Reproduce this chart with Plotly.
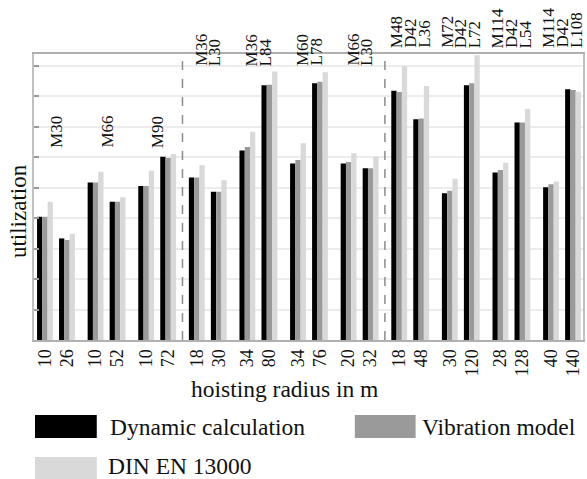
import plotly.graph_objects as go

# ---------------- data ----------------
radius_labels = ["10", "26", "10", "52", "10", "72", "18", "30", "34", "80", "34", "76",
                 "20", "32", "18", "48", "30", "120", "28", "128", "40", "140"]
dynamic = [4.04, 3.33, 5.16, 4.53, 5.05, 6.01, 5.33, 4.86, 6.21, 8.35, 5.79, 8.42,
           5.79, 5.63, 8.17, 7.24, 4.81, 8.35, 5.49, 7.13, 5.01, 8.22]
vibration = [4.04, 3.28, 5.16, 4.53, 5.05, 5.97, 5.33, 4.86, 6.33, 8.37, 5.90, 8.47,
             5.84, 5.63, 8.13, 7.26, 4.89, 8.42, 5.57, 7.13, 5.11, 8.20]
din = [4.53, 3.48, 5.52, 4.68, 5.55, 6.10, 5.73, 5.24, 6.83, 8.80, 6.45, 8.78,
       6.12, 6.01, 8.98, 8.33, 5.29, 9.34, 5.81, 7.57, 5.20, 8.14]
config_labels = [["M30"], ["M66"], ["M90"],
                 ["M36", "L30"], ["M36", "L84"], ["M60", "L78"], ["M66", "L30"],
                 ["M48", "D42", "L36"], ["M72", "D42", "L72"],
                 ["M114", "D42", "L54"], ["M114", "D42", "L108"]]
series_names = ["Dynamic calculation", "Vibration model", "DIN EN 13000"]

# ---------------- layout constants ----------------
W, H = 587, 479
L, R, T, B = 34, 585, 54, 340
PAIR_STEP = 2.3
colors = ["#000000", "#9a9a9a", "#d9d9d9"]
FONT = "Liberation Serif, Times New Roman, serif"
section_of_pair = [0, 0, 0, 1, 1, 1, 1, 2, 2, 2, 2]
section_label_bottom_px = [150, 68, 50]
section_breaks = [3, 7]  # pair index where a new section starts

n_pairs = len(config_labels)
xpos = [PAIR_STEP * k + j for k in range(n_pairs) for j in range(2)]


def px2paper_x(px):
    return (px - L) / (R - L)


def px2paper_y(py):
    return (B - py) / (B - T)


fig = go.Figure()
for name, vals, col in zip(series_names, [dynamic, vibration, din], colors):
    fig.add_trace(go.Bar(x=xpos, y=vals, name=name, marker=dict(color=col, line=dict(width=0)),
                         showlegend=False, hoverinfo="skip"))

# section separators
for s in section_breaks:
    xm = (xpos[2 * s - 1] + xpos[2 * s]) / 2
    fig.add_shape(type="line", xref="x", yref="paper", x0=xm, x1=xm, y0=0, y1=1,
                  line=dict(color="#8c8c8c", width=1.5, dash="dash"))

# configuration labels above groups
annotations = []
for k, lines in enumerate(config_labels):
    cx = (xpos[2 * k] + xpos[2 * k + 1]) / 2
    n = len(lines)
    for i, txt in enumerate(lines):
        annotations.append(dict(x=cx, y=px2paper_y(section_label_bottom_px[section_of_pair[k]]),
                                xref="x", yref="paper",
                                text=txt, showarrow=False, textangle=-90,
                                xanchor="center", yanchor="bottom",
                                xshift=(i - (n - 1) / 2) * 14,
                                font=dict(family=FONT, size=17, color="#111")))

# axis titles
annotations.append(dict(x=px2paper_x(18), y=px2paper_y(211), xref="paper", yref="paper",
                        text="utilization", showarrow=False, textangle=-90,
                        xanchor="center", yanchor="middle",
                        font=dict(family=FONT, size=23, color="#111")))
annotations.append(dict(x=px2paper_x(190), y=px2paper_y(389), xref="paper", yref="paper",
                        text="hoisting radius in m", showarrow=False,
                        xanchor="left", yanchor="middle",
                        font=dict(family=FONT, size=23.5, color="#111")))

# legend drawn manually (large swatches)
legend_items = [(35, 97, 415, 438, 108, 427), (356, 417, 415, 438, 421, 427),
                (35, 97, 457, 479, 106, 466)]
for (x0, x1, y0, y1, tx, ty), name, col in zip(legend_items, series_names, colors):
    fig.add_shape(type="rect", xref="paper", yref="paper",
                  x0=px2paper_x(x0), x1=px2paper_x(x1), y0=px2paper_y(y1), y1=px2paper_y(y0),
                  fillcolor=col, line=dict(width=0))
    annotations.append(dict(x=px2paper_x(tx), y=px2paper_y(ty), xref="paper", yref="paper",
                            text=name, showarrow=False, xanchor="left", yanchor="middle",
                            font=dict(family=FONT, size=23.5, color="#111")))

px_per_unit = (575 - 45) / xpos[-1]
x0r = -(45 - L) / px_per_unit
x1r = x0r + (R - L) / px_per_unit

fig.update_layout(
    width=W, height=H,
    margin=dict(l=L, r=W - R, t=T, b=H - B),
    paper_bgcolor="white", plot_bgcolor="white",
    barmode="group", bargap=0.28, bargroupgap=0,
    annotations=annotations,
    font=dict(family=FONT, color="#111"),
    xaxis=dict(range=[x0r, x1r], tickmode="array", tickvals=xpos, ticktext=radius_labels,
               tickangle=-90, tickfont=dict(family=FONT, size=18, color="#111"),
               showgrid=False, zeroline=False, showline=True, linecolor="#b0b0b0",
               linewidth=2, mirror=True, ticks=""),
    yaxis=dict(range=[0, (B - T) / 30.5], dtick=1, showticklabels=False,
               showgrid=True, gridcolor="#ececec", gridwidth=1.5, zeroline=False,
               showline=True, linecolor="#c0c0c0", linewidth=1.5, mirror=True,
               ticks="inside", ticklen=5, tickcolor="#999999", tickwidth=2),
)

fig.write_html("out.html", config={"displayModeBar": False},
               post_script="document.body.style.margin='0';document.body.style.overflow='hidden';")
